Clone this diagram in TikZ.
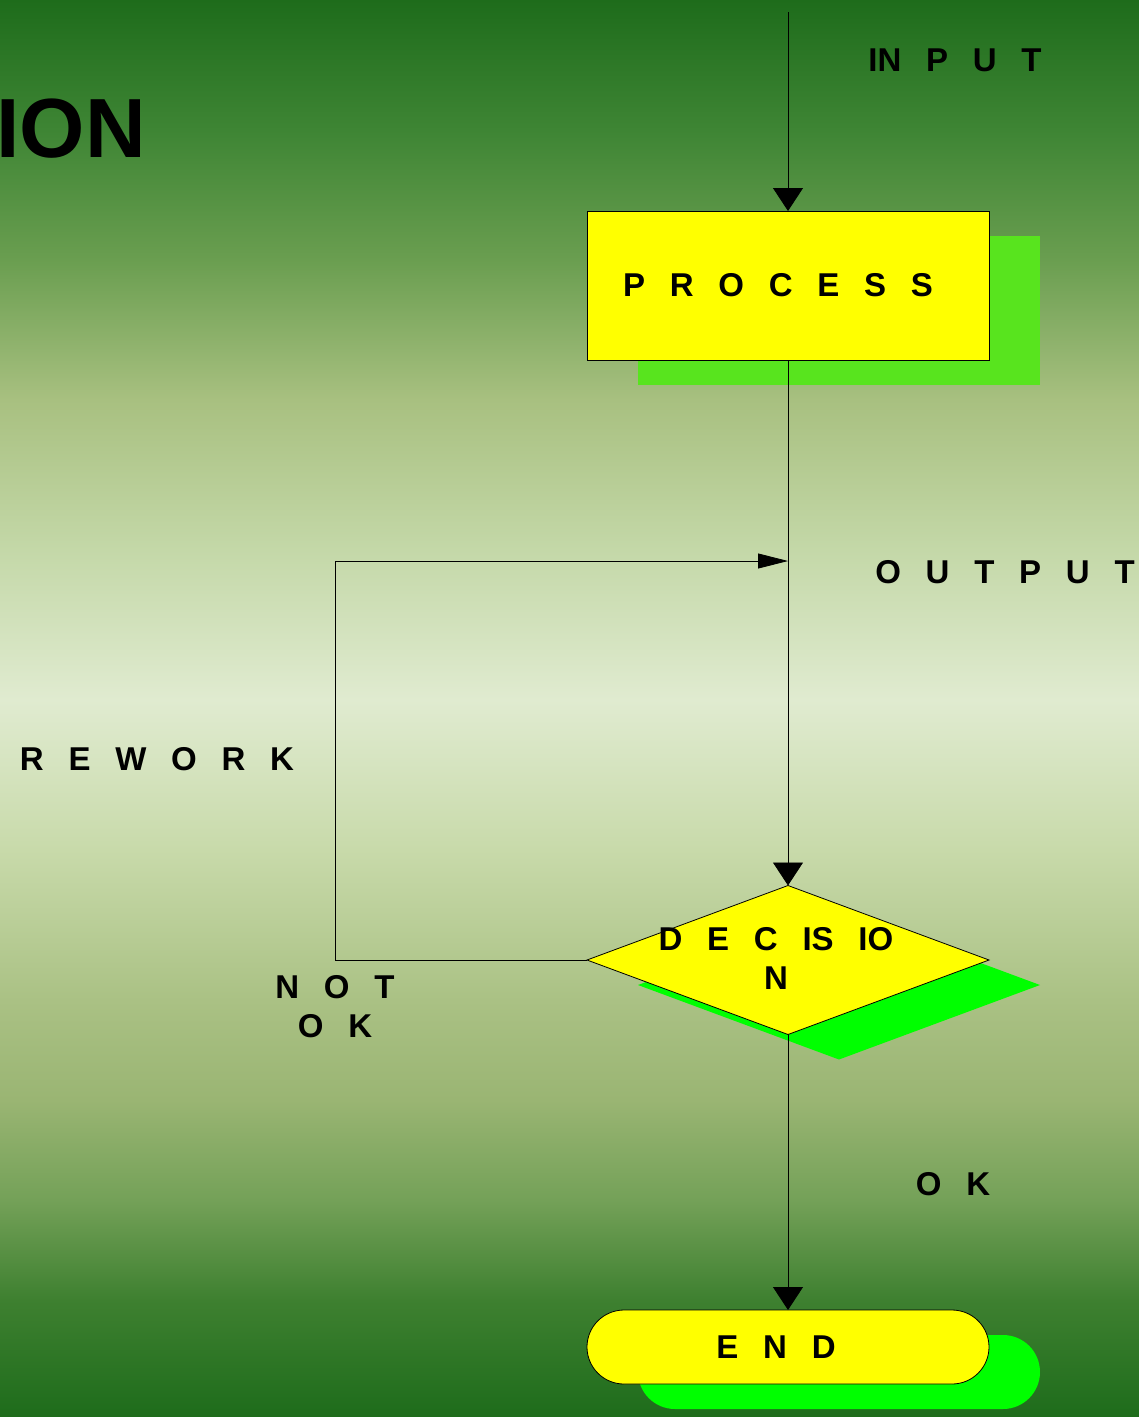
\documentclass[tikz,border=0pt]{standalone}
\usepackage{fontspec}
\setmainfont{Liberation Sans}
\newfontfamily\flowfont{Liberation Sans}[WordSpace=2.7]
\usepackage{xcolor}
\usepackage{tikz}
\usetikzlibrary{positioning,shapes.geometric,shadows,arrows.meta}
\definecolor{bgA}{RGB}{30,108,27}
\definecolor{bgB}{RGB}{62,133,52}
\definecolor{bgC}{RGB}{106,158,80}
\definecolor{bgD}{RGB}{168,192,128}
\definecolor{bgE}{RGB}{196,216,168}
\definecolor{bgF}{RGB}{224,235,208}
\definecolor{bgG}{RGB}{200,218,170}
\definecolor{bgH}{RGB}{170,193,132}
\definecolor{bgI}{RGB}{154,181,115}
\definecolor{bgJ}{RGB}{116,161,88}
\definecolor{bgK}{RGB}{62,128,48}
\definecolor{boxyellow}{RGB}{255,255,0}
\definecolor{procshadow}{RGB}{88,228,30}
\definecolor{limeshadow}{RGB}{0,255,0}
\pgfdeclareverticalshading{bgshade}{100bp}{color(0bp)=(bgA); color(25bp)=(bgA);
  color(29.13bp)=(bgK); color(32.66bp)=(bgJ); color(36.19bp)=(bgI);
  color(39.71bp)=(bgH); color(45.01bp)=(bgG); color(50.3bp)=(bgF);
  color(55.59bp)=(bgE); color(60.89bp)=(bgD); color(65.83bp)=(bgC);
  color(70.41bp)=(bgB); color(75bp)=(bgA); color(100bp)=(bgA)}

\begin{document}
\begin{tikzpicture}[x=1pt,y=-1pt,
  lbl/.style={font=\flowfont\bfseries\fontsize{33}{39}\selectfont, anchor=base, inner sep=0},
  title/.style={font=\bfseries\fontsize{84}{90}\selectfont, anchor=base east, inner sep=0},
  procbox/.style={rectangle, draw, line width=0.8pt, fill=boxyellow, minimum width=402pt, minimum height=149pt,
    outer sep=0, font=\flowfont\bfseries\fontsize{33}{39}\selectfont,
    copy shadow={shadow xshift=51pt, shadow yshift=-25pt, fill=procshadow, draw=none}},
  decbox/.style={diamond, draw, line width=0.8pt, fill=boxyellow, minimum width=402pt, minimum height=149pt,
    inner sep=0, outer sep=0,
    copy shadow={shadow xshift=51pt, shadow yshift=-25pt, fill=limeshadow, draw=none}},
  endbox/.style={rectangle, rounded corners=37pt, draw, line width=0.8pt, fill=boxyellow, minimum width=402pt,
    minimum height=74pt, outer sep=0, font=\flowfont\bfseries\fontsize{33}{39}\selectfont,
    copy shadow={shadow xshift=51pt, shadow yshift=-25pt, fill=limeshadow, draw=none}},
  arr/.style={-{Triangle[length=23pt,width=30pt]}, line width=0.8pt},
  backarr/.style={-{Triangle[length=30pt,width=15pt]}, line width=0.8pt}]

% background
\useasboundingbox (0,0) rectangle (1139,1417);
\shade[shading=bgshade] (0,0) rectangle (1139,1417);
\node[title] (ion) at (146,157) {ION};

% flow shapes
\node[procbox] (proc) at (788,285.5) {P R O C E S S\kern20pt};
\node[decbox] (dec) at (788,960) {};
\node[lbl, align=center, anchor=center] (dectxt) at (776,958) {D E C IS IO\\N};
\node[endbox] (end) at (788,1347) {E N D\kern24pt};

% labels
\node[lbl] (input) at (955,71) {IN P U T};
\node[lbl] (output) at (1005,583) {O U T P U T};
\node[lbl] (rework) at (157,770) {R E W O R K};
\node[lbl, align=center, anchor=center] (notok) at (335,1007) {N O T\\O K};
\node[lbl] (ok) at (953,1195) {O K};

% connectors
\coordinate (in) at (788,12);
\coordinate (corner) at (335,561);
\coordinate (back) at (788,561);
\draw[arr] (in) -- (proc.north);
\draw[arr] (proc.south) -- (dec.north);
\draw[backarr] (dec.west) -| (corner) -- (back);
\draw[arr] (dec.south) -- (end.north);
\end{tikzpicture}
\end{document}
